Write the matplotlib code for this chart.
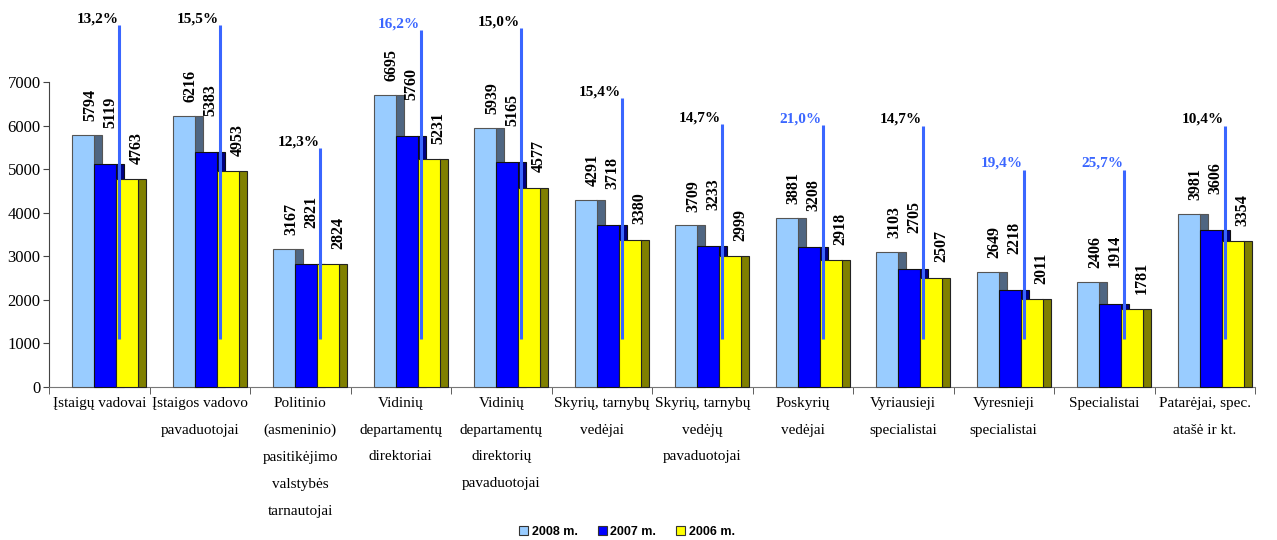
import matplotlib
matplotlib.use("Agg")
import matplotlib.pyplot as plt
from matplotlib.patches import Patch
import numpy as np

categories = [
    "Įstaigų vadovai",
    "Įstaigos vadovo\npavaduotojai",
    "Politinio\n(asmeninio)\npasitikėjimo\nvalstybės\ntarnautojai",
    "Vidinių\ndepartamentų\ndirektoriai",
    "Vidinių\ndepartamentų\ndirektorių\npavaduotojai",
    "Skyrių, tarnybų\nvedėjai",
    "Skyrių, tarnybų\nvedėjų\npavaduotojai",
    "Poskyrių\nvedėjai",
    "Vyriausieji\nspecialistai",
    "Vyresnieji\nspecialistai",
    "Specialistai",
    "Patarėjai, spec.\natašė ir kt.",
]
series_names = ["2008 m.", "2007 m.", "2006 m."]
values_2008 = [5794, 6216, 3167, 6695, 5939, 4291, 3709, 3881, 3103, 2649, 2406, 3981]
values_2007 = [5119, 5383, 2821, 5760, 5165, 3718, 3233, 3208, 2705, 2218, 1914, 3606]
values_2006 = [4763, 4953, 2824, 5231, 4577, 3380, 2999, 2918, 2507, 2011, 1781, 3354]
growth_labels = ["13,2%", "15,5%", "12,3%", "16,2%", "15,0%", "15,4%",
                 "14,7%", "21,0%", "14,7%", "19,4%", "25,7%", "10,4%"]
growth_highlight = [False, False, False, True, False, False,
                    False, True, False, True, True, False]
line_tops = [8300, 8300, 5480, 8190, 8230, 6630, 6030, 6010, 5990, 4980, 4980, 5990]
line_bottom = 1100

front_colors = ["#99CCFF", "#0000FF", "#FFFF00"]
side_colors = ["#4F6682", "#000080", "#808000"]
edge_colors = ["#555555", "#111111", "#222222"]

plt.rcParams["font.family"] = ["Liberation Serif", "DejaVu Serif"]

fig = plt.figure(figsize=(12.77, 5.40), dpi=100)
ax = fig.add_axes([49 / 1277, 153 / 540, (1255 - 49) / 1277, 305 / 540])

x = np.arange(len(categories))
w = 0.219
depth = 0.08
start = -0.271
label_offsets = [10, 26, 11]
label_dx = [0.07, 0.05, 0.10]

all_vals = [values_2008, values_2007, values_2006]
for s, vals in enumerate(all_vals):
    left = x + start + s * w
    ax.bar(left + w - 0.005, vals, width=depth + 0.005, align="edge",
           color=side_colors[s], edgecolor=edge_colors[s], linewidth=0.8,
           zorder=2 + 2 * s, clip_on=False)
    ax.bar(left, vals, width=w, align="edge",
           color=front_colors[s], edgecolor=edge_colors[s], linewidth=0.8,
           zorder=3 + 2 * s, clip_on=False)
    for i, v in enumerate(vals):
        ax.annotate(str(v), xy=(left[i] + w / 2 + label_dx[s], v),
                    xytext=(0, label_offsets[s]), textcoords="offset points",
                    rotation=90, ha="center", va="bottom",
                    fontsize=11.5, fontweight="bold", color="black",
                    zorder=20, annotation_clip=False)

line_x = x + 0.2
ax.vlines(line_x, [line_bottom] * len(x), line_tops, colors="#3A66FF",
          linewidth=2.2, zorder=15, clip_on=False)
for i in range(len(x)):
    ax.text(line_x[i] - 0.01, line_tops[i], growth_labels[i],
            ha="right", va="bottom", fontsize=11, fontweight="bold",
            color="#3A66FF" if growth_highlight[i] else "black",
            zorder=20, clip_on=False)

ax.set_xlim(-0.5, len(categories) - 0.5)
ax.set_ylim(0, 7000)
ax.set_yticks(np.arange(0, 7001, 1000))
ax.set_yticklabels([str(t) for t in range(0, 7001, 1000)], fontsize=12)
ax.set_xticks(x)
ax.set_xticklabels(categories, fontsize=11)
for lbl in ax.get_xticklabels():
    lbl.set_linespacing(2.38)
ax.set_xticks(np.arange(-0.5, len(categories), 1.0), minor=True)
ax.tick_params(axis="x", which="major", length=0, pad=7)
ax.tick_params(axis="x", which="minor", length=5, direction="out", color="#444444")
ax.tick_params(axis="y", length=4, direction="out", color="#444444", pad=2)

for sp in ["top", "right"]:
    ax.spines[sp].set_visible(False)
ax.spines["left"].set_color("#444444")
ax.spines["bottom"].set_color("#777777")
ax.spines["left"].set_zorder(1)
ax.set_facecolor("none")

handles = [Patch(facecolor=front_colors[s], edgecolor="#333333", linewidth=0.8,
                 label=series_names[s]) for s in range(3)]
fig.legend(handles=handles, loc="center", bbox_to_anchor=(627 / 1277, 8 / 540),
           ncol=3, frameon=False, handlelength=0.7, handleheight=0.7,
           handletextpad=0.3, columnspacing=1.6,
           prop={"family": "Liberation Sans", "weight": "bold", "size": 9})

fig.savefig("out.png", dpi=100)
